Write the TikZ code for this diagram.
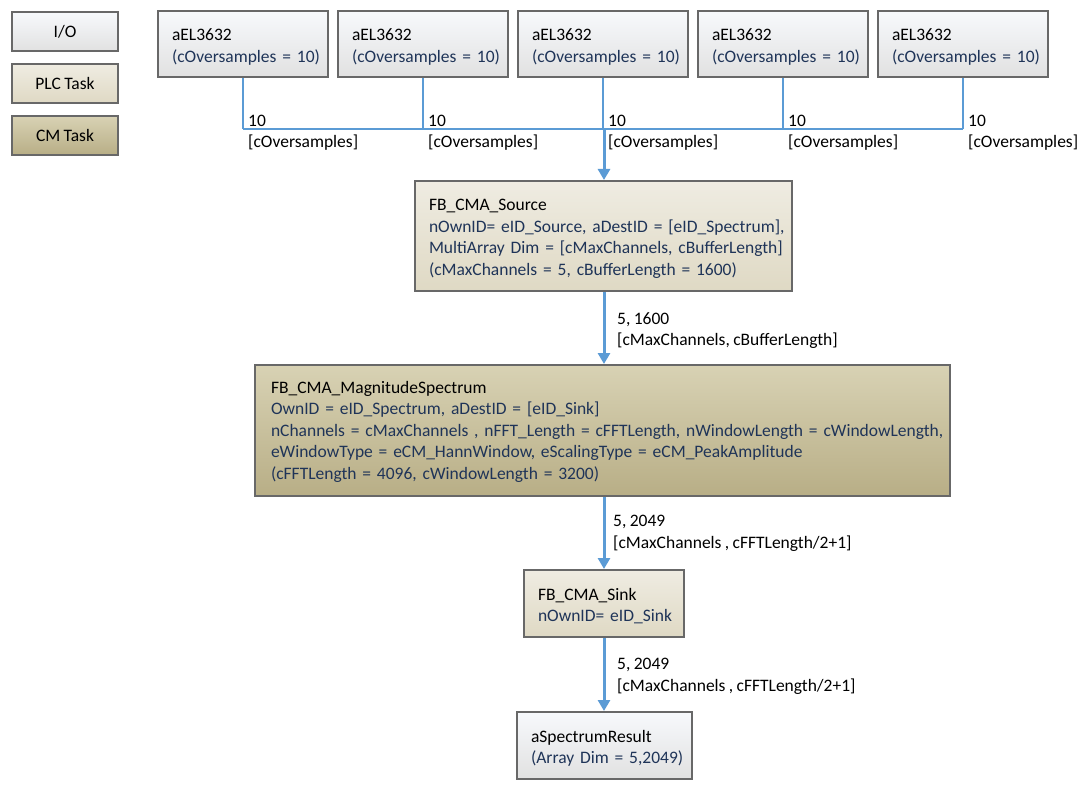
\documentclass[tikz,border=0pt]{standalone}
\usepackage{fontspec}
\setmainfont{Carlito}[WordSpace=0.85]
\usetikzlibrary{arrows.meta,positioning}
\definecolor{bord}{HTML}{686868}
\definecolor{conn}{HTML}{5B9BD5}
\definecolor{bodytxt}{HTML}{1F3458}
\definecolor{ioTop}{HTML}{F7F9FC}
\definecolor{ioBot}{HTML}{E1E1E1}
\definecolor{plcTop}{HTML}{EFECE2}
\definecolor{plcBot}{HTML}{DFD9C4}
\definecolor{cmTop}{HTML}{D8D2B4}
\definecolor{cmBot}{HTML}{B8AE86}
\tikzset{
  basebox/.style={draw=bord, line width=2pt, rectangle, inner xsep=14pt, inner ysep=0pt, align=left,
    font=\fontsize{17.5}{21.5}\selectfont},
  iobox/.style={basebox, top color=ioTop, bottom color=ioBot},
  plcbox/.style={basebox, top color=plcTop, bottom color=plcBot},
  cmbox/.style={basebox, top color=cmTop, bottom color=cmBot},
  legend/.style={align=center, inner xsep=0pt, minimum width=106pt, minimum height=39pt},
  thinconn/.style={draw=conn, line width=1.8pt},
  mainconn/.style={draw=conn, line width=3pt, -{Triangle[length=11pt,width=12pt]}},
  lbl/.style={inner sep=0pt, anchor=west, align=left, font=\fontsize{17.5}{21.5}\selectfont},
}
\newcommand{\bt}[1]{\textcolor{bodytxt}{\mbox{#1}}}
\newcommand{\tl}[1]{\rule{0pt}{17.5pt}#1}
\begin{document}
\begin{tikzpicture}[x=1pt,y=-1pt]
\useasboundingbox[fill=white] (0,0) rectangle (1092,794);
% legend
\node[iobox, legend] (lio) at (65,31.5) {I/O};
\node[plcbox, legend] (lplc) at (65,83.5) {PLC Task};
\node[cmbox, legend] (lcm) at (65,135.5) {CM Task};
% I/O sources
\foreach \i/\x in {1/243,2/423,3/603,4/783,5/963}{
  \node[iobox, minimum width=170pt, minimum height=66pt, text width=142pt] (a\i) at (\x,44)
    {\tl{aEL3632}\\\bt{(cOversamples = 10)}};
}
\coordinate (hub) at (604,129);
\foreach \i in {1,...,5}{
  \draw[thinconn] (a\i.south) -- (a\i.south |- hub);
  \node[lbl] (l\i) at ([xshift=5pt,yshift=-3.5pt]a\i.south |- hub) {10\\{}[cOversamples]};
}
\draw[thinconn] (a1.south |- hub) -- (a5.south |- hub);
% processing chain
\node[plcbox, minimum width=377pt, minimum height=110pt, text width=349pt] (src) at (603.5,236)
  {\tl{FB\_CMA\_Source}\\\bt{nOwnID= eID\_Source, aDestID = [eID\_Spectrum],}\\\bt{MultiArray Dim = [cMaxChannels, cBufferLength]}\\\bt{(cMaxChannels = 5,\ cBufferLength = 1600)}};
\node[cmbox, minimum width=691pt, minimum height=131pt, text width=663pt, inner xsep=16pt] (mag) at (602.5,430.5)
  {\rule{0pt}{15pt}FB\_CMA\_MagnitudeSpectrum\\\bt{OwnID = eID\_Spectrum, aDestID = [eID\_Sink]}\\\bt{nChannels = cMaxChannels , nFFT\_Length = cFFTLength, nWindowLength = cWindowLength,}\\\bt{eWindowType = eCM\_HannWindow, eScalingType = eCM\_PeakAmplitude}\\\bt{(cFFTLength = 4096, cWindowLength = 3200)}};
\node[plcbox, minimum width=160pt, minimum height=67pt, text width=132pt] (sink) at (604,603.5)
  {\tl{FB\_CMA\_Sink}\\\bt{nOwnID= eID\_Sink}};
\node[iobox, minimum width=175pt, minimum height=67pt, text width=147pt] (res) at (604.5,745.5)
  {\tl{aSpectrumResult}\\\bt{(Array Dim = 5,2049)}};
% connectors
\draw[mainconn] (hub) -- (hub |- src.north);
\draw[mainconn] (src.south -| hub) -- (hub |- mag.north);
\draw[mainconn] (mag.south -| hub) -- (hub |- sink.north);
\draw[mainconn] (sink.south -| hub) -- (hub |- res.north);
\node[lbl] (e1) at (617,330.5) {5, 1600\\{}[cMaxChannels, cBufferLength]};
\node[lbl] (e2) at (613,533.5) {5, 2049\\{}[cMaxChannels , cFFTLength/2+1]};
\node[lbl] (e3) at (617,676.5) {5, 2049\\{}[cMaxChannels , cFFTLength/2+1]};
\end{tikzpicture}
\end{document}
